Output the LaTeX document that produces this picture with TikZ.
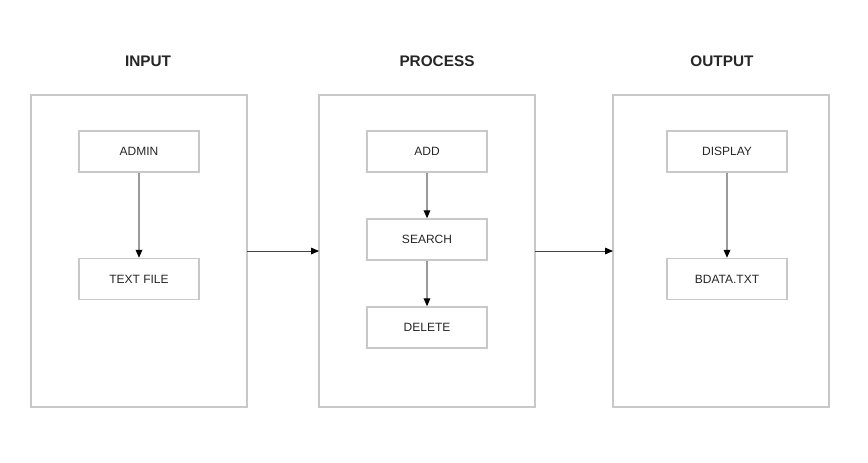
\documentclass[tikz,border=0pt]{standalone}
\usepackage{fontspec}
\setmainfont{Liberation Sans}
\usetikzlibrary{arrows.meta}
\definecolor{boxgray}{HTML}{C8C8C8}
\definecolor{linegray}{HTML}{9A9A9A}
\definecolor{darkline}{HTML}{444444}
\begin{document}
\begin{tikzpicture}[x=0.75pt,y=-0.75pt,
  bigbox/.style={draw=boxgray,line width=1.1pt,minimum width=162pt,minimum height=234pt,inner sep=0pt,outer sep=0pt},
  smallbox/.style={draw=boxgray,line width=1.1pt,minimum width=90pt,minimum height=30.75pt,inner sep=0pt,font=\fontsize{9}{10}\selectfont,text=black!85},
  title/.style={font=\fontsize{11.5}{13}\selectfont\bfseries,text=black!85},
  inarrow/.style={draw=linegray,line width=0.9pt,-{Triangle[length=6pt,width=5pt,color=black]}},
  mainarrow/.style={draw=darkline,line width=0.75pt,-{Triangle[length=6pt,width=5pt,color=black]}}]
\useasboundingbox (0,0) rectangle (868,462);
\node[title] (tin) at (148,61) {INPUT};
\node[title] (tpr) at (437,61) {PROCESS};
\node[title] (tou) at (722,61) {OUTPUT};
\node[bigbox] (input) at (139,251) {};
\node[bigbox] (process) at (427,251) {};
\node[bigbox] (output) at (721,251) {};
\node[smallbox] (admin) at (139,151.5) {ADMIN};
\node[smallbox] (text) at (139,279) {TEXT FILE};
\node[smallbox] (add) at (427,151.5) {ADD};
\node[smallbox] (search) at (427,239.5) {SEARCH};
\node[smallbox] (delete) at (427,327.5) {DELETE};
\node[smallbox] (display) at (727,151.5) {DISPLAY};
\node[smallbox] (bdata) at (727,279) {BDATA.TXT};
\draw[inarrow] (admin) -- (text);
\draw[inarrow] (add) -- (search);
\draw[inarrow] (search) -- (delete);
\draw[inarrow] (display) -- (bdata);
\draw[mainarrow] (input) -- (process);
\draw[mainarrow] (process) -- (output);
\end{tikzpicture}
\end{document}
